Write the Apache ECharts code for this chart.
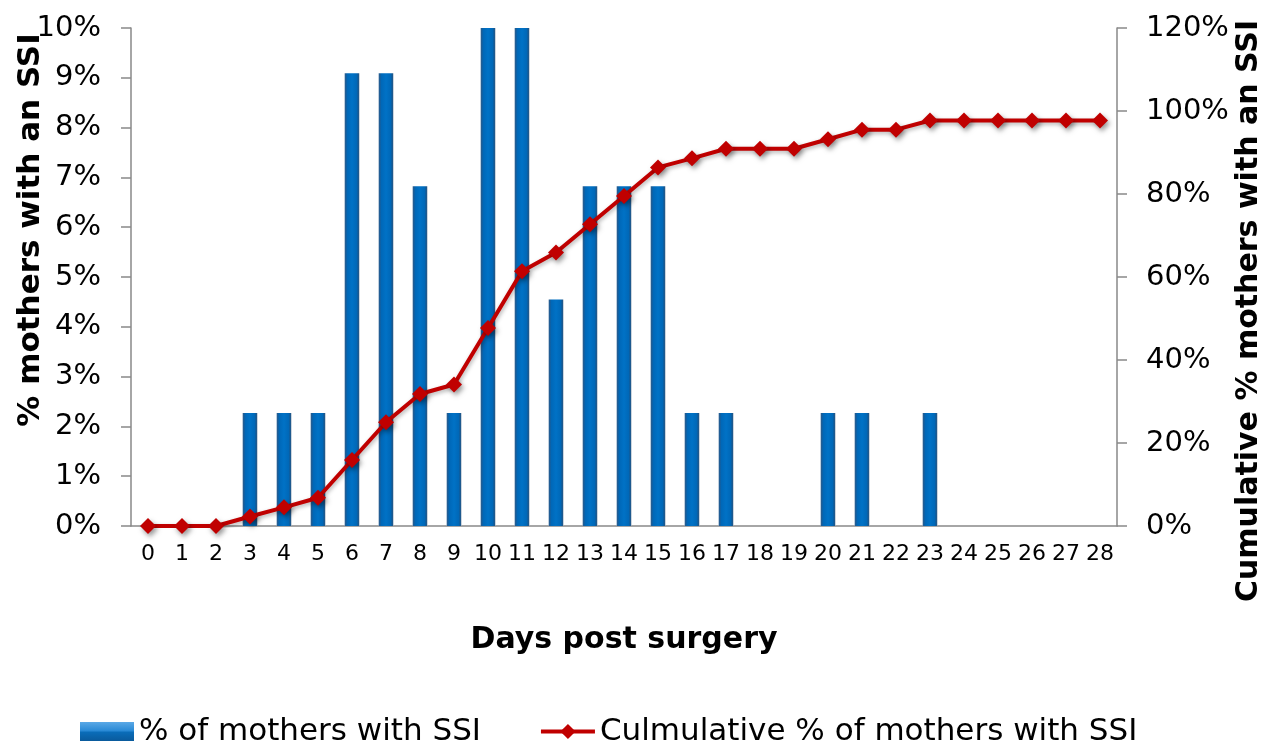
<!DOCTYPE html>
<html>
<head>
<meta charset="utf-8">
<script src="https://cdn.jsdelivr.net/npm/echarts@6/dist/echarts.min.js"></script>
<style>
html,body{margin:0;padding:0;background:#fff;}
#chart{width:1266px;height:743px;}
</style>
</head>
<body>
<div id="chart"></div>
<script>
var days = ['0','1','2','3','4','5','6','7','8','9','10','11','12','13','14','15','16','17','18','19','20','21','22','23','24','25','26','27','28'];
var pctMothers = [0,0,0,2.27,2.27,2.27,9.09,9.09,6.82,2.27,13.64,13.64,4.55,6.82,6.82,6.82,2.27,2.27,0,0,2.27,2.27,0,2.27,0,0,0,0,0];
var cumPct = [0,0,0,2.3,4.5,6.8,15.9,25.0,31.8,34.1,47.7,61.4,65.9,72.7,79.5,86.4,88.6,90.9,90.9,90.9,93.2,95.5,95.5,97.7,97.7,97.7,97.7,97.7,97.7];
var leftTicks = {min:0, max:10, interval:1};
var rightTicks = {min:0, max:120, interval:20};

var FONT = 'DejaVu Sans';
var chart = echarts.init(document.getElementById('chart'));
var barGrad = new echarts.graphic.LinearGradient(0,0,1,0,[
  {offset:0, color:'#7d9dbd'},
  {offset:0.07, color:'#1d5a92'},
  {offset:0.2, color:'#0068b8'},
  {offset:0.5, color:'#0072c6'},
  {offset:0.8, color:'#0068b8'},
  {offset:0.93, color:'#17558c'},
  {offset:1, color:'#9aaabb'}
]);
var legendGrad = new echarts.graphic.LinearGradient(0,0,0,1,[
  {offset:0, color:'#5aa8e6'},
  {offset:0.45, color:'#2a8ad6'},
  {offset:0.55, color:'#0a6cb8'},
  {offset:1, color:'#0a5a9c'}
]);
var axisGray = '#898989';
chart.setOption({
  animation:false,
  textStyle:{fontFamily:FONT},
  grid:{left:131, right:149, top:28, bottom:217, containLabel:false, outerBoundsMode:'none'},
  legend:{
    left:75, top:711, itemWidth:54, itemHeight:19, itemGap:58,
    textStyle:{fontFamily:FONT, fontSize:31, color:'#000'},
    data:[
      {name:'% of mothers with SSI', icon:'rect', itemStyle:{color:legendGrad}},
      {name:'Culmulative % of mothers with SSI', lineStyle:{width:4, color:'#c00000'}}
    ]
  },
  xAxis:{
    type:'category', data:days, boundaryGap:true,
    name:'Days post surgery', nameLocation:'middle', nameGap:99, nameMoveOverlap:false,
    nameTextStyle:{fontFamily:FONT, fontSize:30, fontWeight:'bold', color:'#000'},
    axisLine:{lineStyle:{color:axisGray, width:1.5}},
    axisTick:{interval:0, length:9, lineStyle:{color:axisGray, width:1.5}},
    axisLabel:{interval:0, margin:17, fontSize:22, color:'#000', fontFamily:FONT}
  },
  yAxis:[
    {
      type:'value', min:leftTicks.min, max:leftTicks.max, interval:leftTicks.interval,
      name:'% mothers with an SSI', nameLocation:'middle', nameRotate:90, nameGap:85, nameMoveOverlap:false,
      nameTextStyle:{fontFamily:FONT, fontSize:31, fontWeight:'bold', color:'#000', padding:[0,0,0,94]},
      axisLine:{show:true, lineStyle:{color:axisGray, width:1.5}},
      axisTick:{show:true, length:10, lineStyle:{color:axisGray, width:1.5}},
      splitLine:{show:false},
      axisLabel:{formatter:'{value}%', margin:30, fontSize:29, color:'#000', fontFamily:FONT}
    },
    {
      type:'value', min:rightTicks.min, max:rightTicks.max, interval:rightTicks.interval,
      position:'right',
      name:'Cumulative % mothers with an SSI', nameLocation:'middle', nameRotate:90, nameGap:117, nameMoveOverlap:false,
      nameTextStyle:{fontFamily:FONT, fontSize:30, fontWeight:'bold', color:'#000', padding:[0,68,0,0]},
      axisLine:{show:true, lineStyle:{color:axisGray, width:1.5}},
      axisTick:{show:true, length:10, lineStyle:{color:axisGray, width:1.5}},
      splitLine:{show:false},
      axisLabel:{formatter:'{value}%', margin:29, fontSize:29, color:'#000', fontFamily:FONT}
    }
  ],
  series:[
    {
      name:'% of mothers with SSI', type:'bar', yAxisIndex:0, data:pctMothers,
      barWidth:15, clip:true,
      itemStyle:{color:barGrad}
    },
    {
      name:'Culmulative % of mothers with SSI', type:'line', yAxisIndex:1, data:cumPct,
      symbol:'diamond', symbolSize:16, z:5,
      lineStyle:{color:'#c00000', width:4, shadowBlur:4, shadowOffsetX:1, shadowOffsetY:2, shadowColor:'rgba(0,0,0,0.3)'},
      itemStyle:{color:'#c00000', borderWidth:0, shadowBlur:5, shadowOffsetX:2, shadowOffsetY:3, shadowColor:'rgba(0,0,0,0.4)'}
    }
  ]
});
</script>
</body>
</html>
